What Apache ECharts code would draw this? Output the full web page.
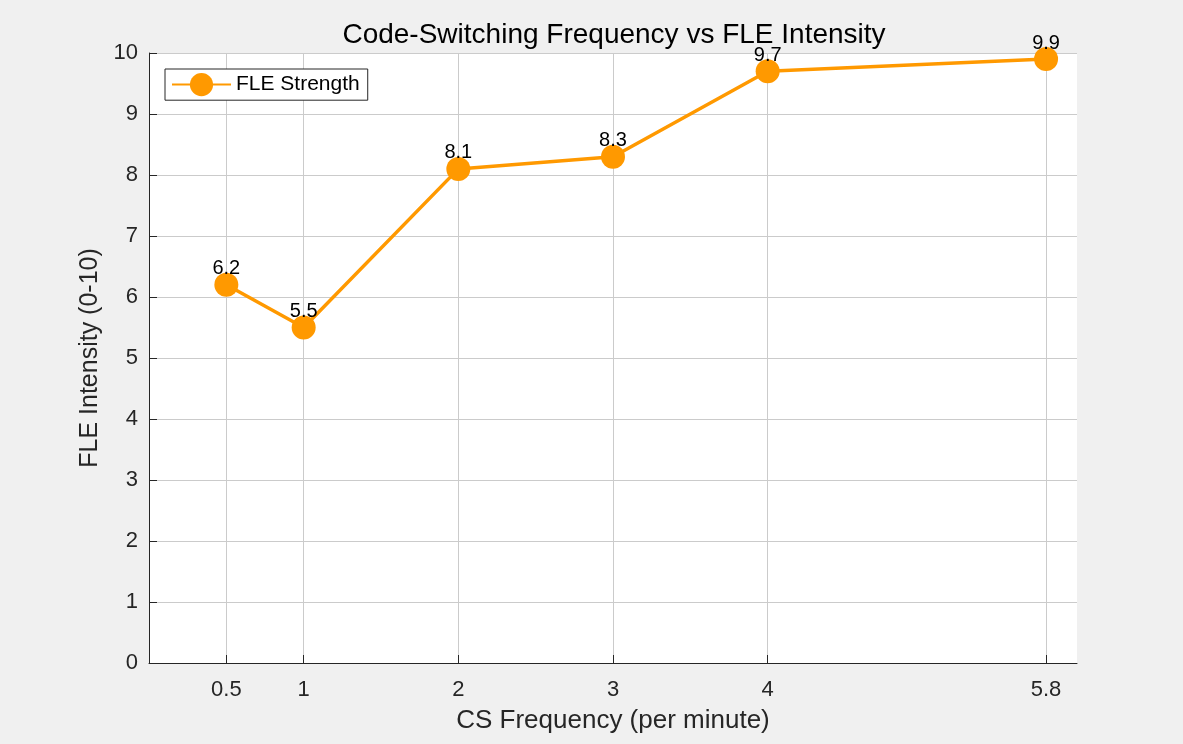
<!DOCTYPE html>
<html>
<head>
<meta charset="utf-8">
<script src="https://cdn.jsdelivr.net/npm/echarts@6/dist/echarts.min.js"></script>
<style>
  html, body { margin: 0; padding: 0; background: #f0f0f0; }
  #chart { width: 1183px; height: 744px; }
</style>
</head>
<body>
<div id="chart"></div>
<script>
// --- Data ---
const csFreq = [0.5, 1, 2, 3, 4, 5.8];
const fleIntensity = [6.2, 5.5, 8.1, 8.3, 9.7, 9.9];
const xTicks = [0.5, 1, 2, 3, 4, 5.8];
const seriesName = 'FLE Strength';

const orange = '#ff9900';
const axisColor = '#262626';
const gridColor = '#cbcbcb';
const font = 'Liberation Sans, Arial, Helvetica, sans-serif';

const chart = echarts.init(document.getElementById('chart'));

const option = {
    backgroundColor: '#f0f0f0',
    animation: false,
    title: {
        text: 'Code-Switching Frequency vs FLE Intensity',
        left: 609,
        textAlign: 'center',
        top: 16,
        textStyle: { fontFamily: font, fontSize: 28, fontWeight: 'normal', color: '#000' }
    },
    legend: {
        left: 165,
        top: 69,
        orient: 'vertical',
        padding: [4, 8, 4, 6],
        backgroundColor: '#fff',
        borderColor: axisColor,
        borderWidth: 1,
        borderRadius: 0,
        itemWidth: 59,
        itemHeight: 29,
        textStyle: { fontFamily: font, fontSize: 21, color: '#000' },
        data: [seriesName]
    },
    grid: {
        left: 149, top: 53, width: 928, height: 610,
        show: true, backgroundColor: '#fff', borderWidth: 0
    },
    xAxis: {
        type: 'value',
        min: 0, max: 6,
        name: 'CS Frequency (per minute)',
        nameLocation: 'middle',
        nameGap: 45,
        nameTextStyle: { fontFamily: font, fontSize: 26, color: axisColor },
        axisLine: { show: true, onZero: false, lineStyle: { color: axisColor, width: 1 } },
        axisTick: { show: true, inside: true, length: 8, customValues: xTicks, lineStyle: { color: axisColor } },
        axisLabel: { customValues: xTicks, fontFamily: font, fontSize: 22, color: axisColor, margin: 16 },
        splitLine: { show: true, lineStyle: { color: gridColor, width: 1 } }
    },
    yAxis: {
        type: 'value',
        min: 0, max: 10, interval: 1,
        name: 'FLE Intensity (0-10)',
        nameLocation: 'middle',
        nameGap: 44,
        nameTextStyle: { fontFamily: font, fontSize: 25, color: axisColor },
        axisLine: { show: true, onZero: false, lineStyle: { color: axisColor, width: 1 } },
        axisTick: { show: true, inside: true, length: 8, lineStyle: { color: axisColor } },
        axisLabel: { fontFamily: font, fontSize: 22, color: axisColor, margin: 11 },
        splitLine: { show: true, lineStyle: { color: gridColor, width: 1 } }
    },
    series: [{
        name: seriesName,
        type: 'line',
        data: csFreq.map((x, i) => [x, fleIntensity[i]]),
        symbol: 'circle',
        symbolSize: 24,
        lineStyle: { color: orange, width: 3.5 },
        itemStyle: { color: orange },
        label: {
            show: true,
            position: 'top',
            distance: -6,
            fontFamily: font,
            fontSize: 20,
            color: '#000',
            formatter: p => p.value[1].toFixed(1)
        },
        z: 3
    }]
};

chart.setOption(option);
</script>
</body>
</html>
